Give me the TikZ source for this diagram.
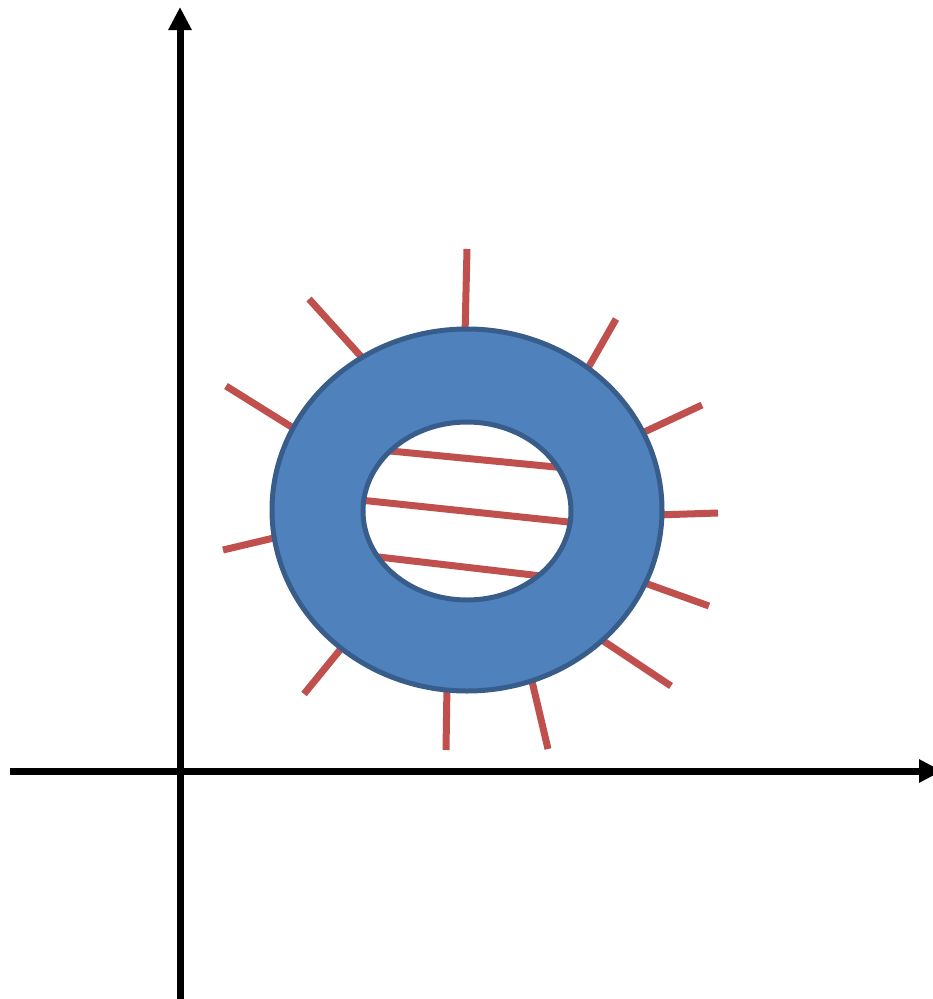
\documentclass[tikz,border=0pt]{standalone}
\usetikzlibrary{arrows.meta}
\definecolor{ringfill}{HTML}{4F81BD}
\definecolor{ringedge}{HTML}{385D8A}
\definecolor{rayred}{HTML}{C0504D}
\tikzset{
  axis/.style={line width=7pt, black, -{Triangle[length=23pt,width=22pt]}},
  ray/.style={line width=7pt, rayred},
  ring/.style={fill=ringfill, draw=ringedge, line width=5pt, even odd rule},
}
\begin{document}
\begin{tikzpicture}[x=1pt,y=-1pt]
\useasboundingbox (0,0) rectangle (933,999);
% axes
\coordinate (ybot) at (180,999);
\coordinate (ytop) at (180,7);
\coordinate (xl) at (10,771);
\coordinate (xr) at (942,771);
\draw[axis] (ybot) -- (ytop);
\draw[axis] (xl) -- (xr);
% rays (behind ring)
\foreach \a/\b/\c/\d in {
 465/335/467/249,
 366/362/309/299,
 298/431/226/386,
 278/537/223/550,
 344/645/304/694,
 447/685/446/750,
 531/677/548/749,
 599/638/671/686,
 642/582/709/606,
 656/515/718/513,
 640/434/702/405,
 584/375/616/319}{
  \coordinate (r1) at (\a,\b);
  \coordinate (r2) at (\c,\d);
  \draw[ray] (r1) -- (r2);
}
% chords
\foreach \a/\b/\c/\d in {
 380/450/566/468,
 360/500/578/523,
 370/556/550/577}{
  \coordinate (c1) at (\a,\b);
  \coordinate (c2) at (\c,\d);
  \draw[ray] (c1) -- (c2);
}
% ring
\path[ring] (467,510) ellipse [x radius=195, y radius=181]
            (467,511) ellipse [x radius=104, y radius=89];
\end{tikzpicture}
\end{document}
